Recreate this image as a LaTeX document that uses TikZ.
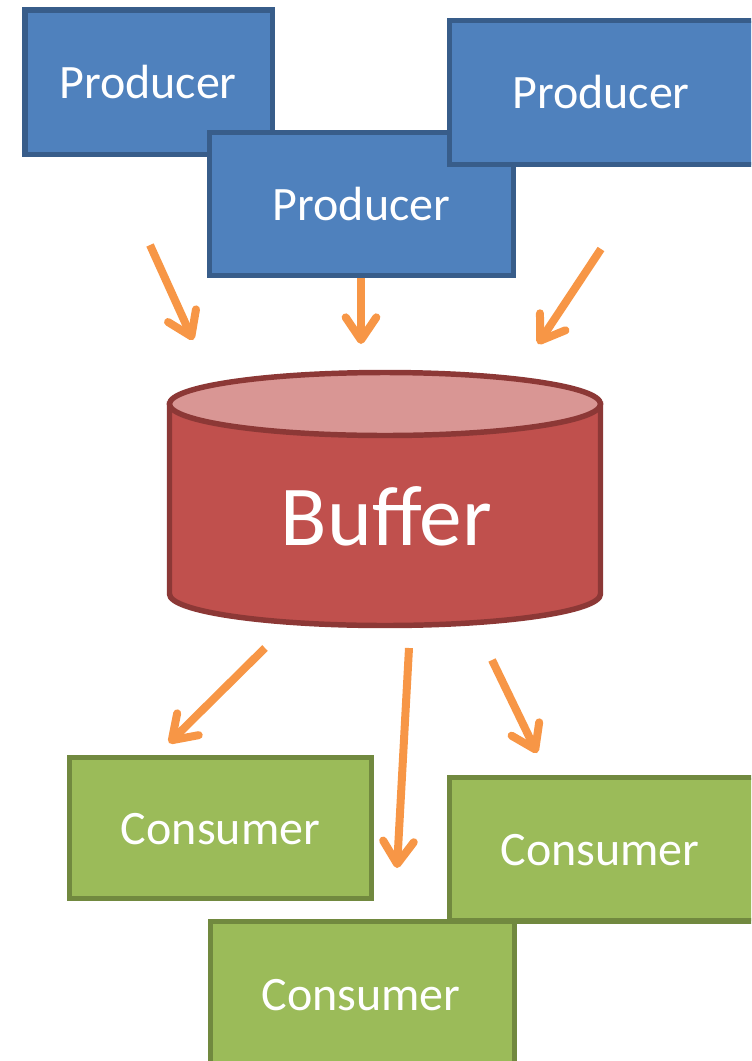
\documentclass[tikz,border=0pt]{standalone}
\usepackage{fontspec}
\setmainfont{Carlito}
\usetikzlibrary{arrows.meta,fit}
\definecolor{pfill}{HTML}{4F81BD}
\definecolor{pborder}{HTML}{385D8A}
\definecolor{cfill}{HTML}{9BBB59}
\definecolor{cborder}{HTML}{71893F}
\definecolor{bfill}{HTML}{C0504D}
\definecolor{btop}{HTML}{D99694}
\definecolor{bborder}{HTML}{8C3836}
\definecolor{arrowc}{HTML}{F79646}
\begin{document}
\begin{tikzpicture}[x=0.75pt,y=-0.75pt,
  prodbox/.style={draw=pborder,fill=pfill,line width=4.1pt,inner sep=0pt,rectangle},
  consbox/.style={draw=cborder,fill=cfill,line width=4.1pt,inner sep=0pt,rectangle},
  boxtext/.style={text=white,anchor=base,inner sep=0pt,font=\fontsize{36}{43}\selectfont},
  buftext/.style={text=white,anchor=base,inner sep=0pt,font=\fontsize{64}{76}\selectfont},
  flow/.style={draw=arrowc,line width=6pt,-{Straight Barb[length=17pt,width=23pt,round]}}]
\useasboundingbox (0,0) rectangle (751,1061);
\clip (0,0) rectangle (751,1061);
% producers
\node[prodbox,fit={(25,10) (272.5,154.5)}] (p1) {};
\node[boxtext] (p1t) at (148,98) {Producer};
\node[prodbox,fit={(209.5,132.5) (513.5,275.5)}] (p2) {};
\node[boxtext] (p2t) at (361.5,220) {Producer};
\node[prodbox,fit={(449.5,20.5) (790,164.5)}] (p3) {};
\node[boxtext] (p3t) at (601,108) {Producer};
% buffer
\path[fill=bfill,draw=bborder,line width=4.1pt]
  (169.5,404) -- (169.5,594) arc[start angle=180,end angle=0,x radius=215.5,y radius=31.5]
  -- (600.5,404) -- cycle;
\path[fill=btop,draw=bborder,line width=4.1pt] (385,404) ellipse[x radius=215.5,y radius=31.5];
\node[buftext] (buf) at (386.5,545) {Buffer};
% consumers
\node[consbox,fit={(69.5,757.5) (371.5,898.5)}] (c1) {};
\node[boxtext] (c1t) at (220.5,844) {Consumer};
\node[consbox,fit={(210.5,921.5) (514.5,1100)}] (c3) {};
\node[boxtext] (c3t) at (361,1010) {Consumer};
\node[consbox,fit={(449.5,777.5) (790,921)}] (c2) {};
\node[boxtext] (c2t) at (600,865) {Consumer};
% arrows
\coordinate (a1s) at (150,245); \coordinate (a1e) at (193,340);
\coordinate (a2s) at (361,278); \coordinate (a2e) at (361,344);
\coordinate (a3s) at (601,249); \coordinate (a3e) at (538,344);
\coordinate (a4s) at (265,648); \coordinate (a4e) at (169,743);
\coordinate (a5s) at (409,648); \coordinate (a5e) at (397,868);
\coordinate (a6s) at (492,660); \coordinate (a6e) at (537,753);
\draw[flow] (a1s) -- (a1e);
\draw[flow] (a2s) -- (a2e);
\draw[flow] (a3s) -- (a3e);
\draw[flow] (a4s) -- (a4e);
\draw[flow] (a5s) -- (a5e);
\draw[flow] (a6s) -- (a6e);
\end{tikzpicture}
\end{document}
